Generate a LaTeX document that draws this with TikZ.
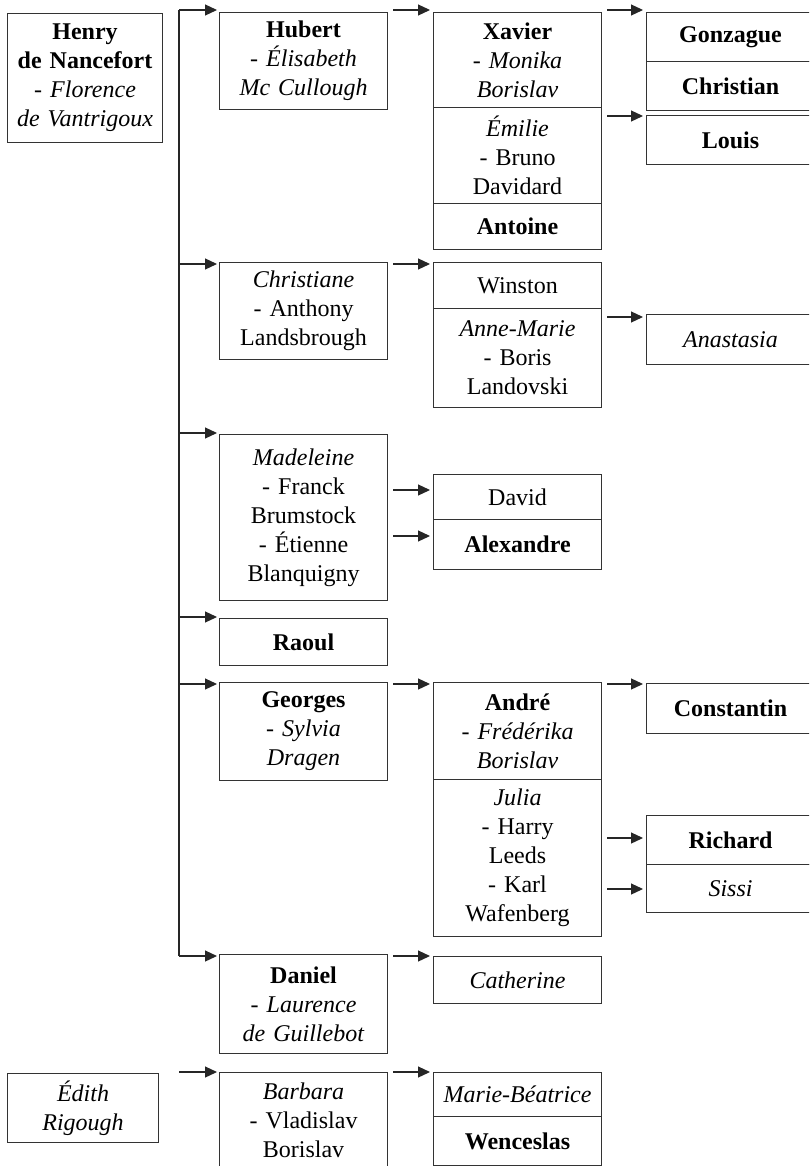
\documentclass[tikz,border=0pt]{standalone}
\usepackage{fontspec}
\setmainfont{Liberation Serif}
\usetikzlibrary{arrows.meta,calc}
\newcommand\famarrow[3]{\draw[conn] ($(#1.east|-0,#3)+(5,0)$) -- ($(#2.west|-0,#3)+(-3,0)$);}
\begin{document}
\begin{tikzpicture}[x=1pt,y=-1pt,
  pbox/.style={draw=black!80,line width=1.1pt,anchor=north west,inner xsep=3pt,inner ysep=0pt,
    align=center,text width=162pt,font=\fontsize{24}{29}\selectfont},
  conn/.style={line width=1.2pt,draw=black!85,-{Triangle[length=12pt,width=11pt]}},
  trunk/.style={line width=1.2pt,draw=black!85},
]
\useasboundingbox (0,0) rectangle (809,1166);
\clip (0,0) rectangle (809,1166);
\fill[white] (0,0) rectangle (809,1166);

% roots
\node[pbox,text width=149pt,minimum height=129pt] (henry) at (7,13)
  {\textbf{Henry}\\\textbf{de Nancefort}\\- \textit{Florence}\\\textit{de Vantrigoux}};
\node[pbox,text width=145pt,minimum height=69pt] (edith) at (7,1073)
  {\textit{Édith}\\\textit{Rigough}};

% generation 1
\node[pbox,minimum height=97pt] (hubert) at (219,12) {\textbf{Hubert}\\- \textit{Élisabeth}\\\textit{Mc Cullough}};
\node[pbox,minimum height=97pt] (christiane) at (219,262) {\textit{Christiane}\\- Anthony\\Landsbrough};
\node[pbox,minimum height=166pt] (madeleine) at (219,434) {\textit{Madeleine}\\- Franck\\Brumstock\\- Étienne\\Blanquigny};
\node[pbox,minimum height=47pt] (raoul) at (219,618) {\textbf{Raoul}};
\node[pbox,minimum height=98pt] (georges) at (219,682) {\textbf{Georges}\\- \textit{Sylvia}\\\textit{Dragen}};
\node[pbox,minimum height=99pt] (daniel) at (219,954) {\textbf{Daniel}\\- \textit{Laurence}\\\textit{de Guillebot}};
\node[pbox,minimum height=96pt] (barbara) at (219,1072) {\textit{Barbara}\\- Vladislav\\Borislav};

% generation 2
\node[pbox,minimum height=95pt] (xavier) at (433,12) {\textbf{Xavier}\\- \textit{Monika}\\\textit{Borislav}};
\node[pbox,minimum height=96pt] (emilie) at (433,107) {\textit{Émilie}\\- Bruno\\Davidard};
\node[pbox,minimum height=46pt] (antoine) at (433,203) {\textbf{Antoine}};
\node[pbox,minimum height=46pt] (winston) at (433,262) {Winston};
\node[pbox,minimum height=99pt] (annemarie) at (433,308) {\textit{Anne-Marie}\\- Boris\\Landovski};
\node[pbox,minimum height=45pt] (david) at (433,474) {David};
\node[pbox,minimum height=50pt] (alexandre) at (433,519) {\textbf{Alexandre}};
\node[pbox,minimum height=97pt] (andre) at (433,682) {\textbf{André}\\- \textit{Frédérika}\\\textit{Borislav}};
\node[pbox,minimum height=157pt] (julia) at (433,779) {\textit{Julia}\\- Harry\\Leeds\\- Karl\\Wafenberg};
\node[pbox,minimum height=47pt] (catherine) at (433,956) {\textit{Catherine}};
\node[pbox,minimum height=44pt] (mariebeatrice) at (433,1072) {\textit{Marie-Béatrice}};
\node[pbox,minimum height=49pt] (wenceslas) at (433,1116) {\textbf{Wenceslas}};

% generation 3
\node[pbox,minimum height=49pt] (gonzague) at (646,12) {\textbf{Gonzague}};
\node[pbox,minimum height=49pt] (christian) at (646,61) {\textbf{Christian}};
\node[pbox,minimum height=49pt] (louis) at (646,115) {\textbf{Louis}};
\node[pbox,minimum height=50pt] (anastasia) at (646,314) {\textit{Anastasia}};
\node[pbox,minimum height=50pt] (constantin) at (646,683) {\textbf{Constantin}};
\node[pbox,minimum height=49pt] (richard) at (646,815) {\textbf{Richard}};
\node[pbox,minimum height=48pt] (sissi) at (646,864) {\textit{Sissi}};

% trunk from Henry's line
\coordinate (tt) at (179,10);
\coordinate (tb) at (179,956);
\coordinate (bstart) at (179,1072);
\draw[trunk] (tt) -- (tb);
\foreach \n/\yy in {hubert/10,christiane/264,madeleine/433,raoul/617,georges/684,daniel/956}
  \draw[conn] (tt|-0,\yy) -- ($(\n.west|-0,\yy)+(-2,0)$);
\draw[conn] (bstart) -- ($(barbara.west|-0,1072)+(-2,0)$);

% generation 1 -> 2
\famarrow{hubert}{xavier}{10}
\famarrow{christiane}{winston}{264}
\famarrow{madeleine}{david}{490}
\famarrow{madeleine}{alexandre}{536}
\famarrow{georges}{andre}{684}
\famarrow{daniel}{catherine}{956}
\famarrow{barbara}{mariebeatrice}{1072}

% generation 2 -> 3
\famarrow{xavier}{gonzague}{10}
\famarrow{emilie}{louis}{116}
\famarrow{annemarie}{anastasia}{317}
\famarrow{andre}{constantin}{684}
\famarrow{julia}{richard}{838}
\famarrow{julia}{sissi}{889}
\end{tikzpicture}
\end{document}
